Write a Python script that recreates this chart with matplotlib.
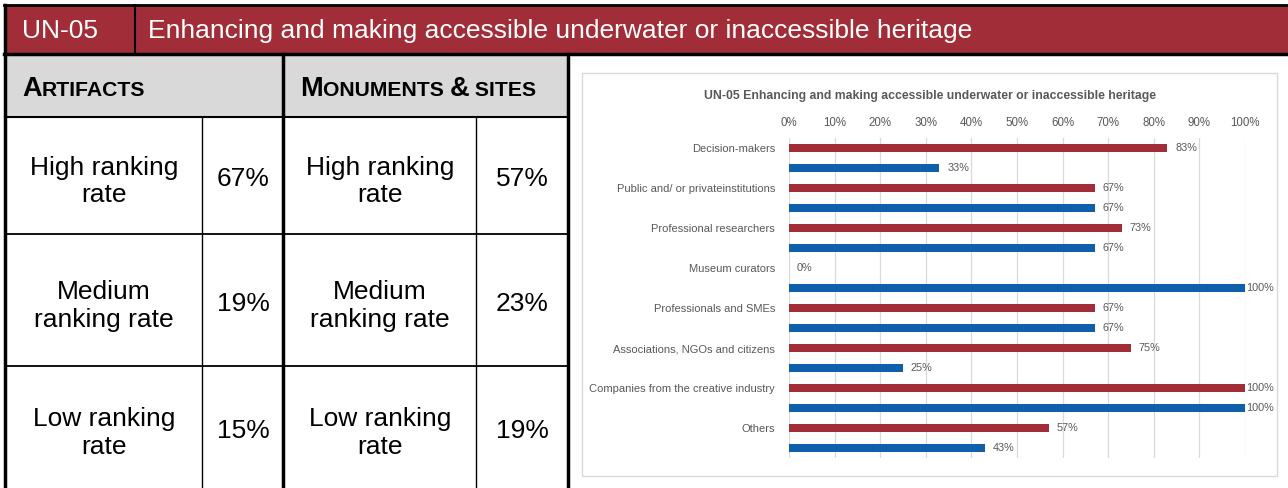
import matplotlib
matplotlib.use('Agg')
import matplotlib.pyplot as plt
from matplotlib.patches import Rectangle

## Data ##
code = 'UN-05'
title = 'Enhancing and making accessible underwater or inaccessible heritage'
row_labels = ['High ranking\nrate', 'Medium\nranking rate', 'Low ranking\nrate']
artifacts_pct = [67, 19, 15]
monuments_pct = [57, 23, 19]

categories = ['Decision-makers', 'Public and/ or privateinstitutions', 'Professional researchers',
              'Museum curators', 'Professionals and SMEs', 'Associations, NGOs and citizens',
              'Companies from the creative industry', 'Others']
red_values = [83, 67, 73, 0, 67, 75, 100, 57]
blue_values = [33, 67, 67, 100, 67, 25, 100, 43]
x_ticks = list(range(0, 101, 10))

## Colours and fonts ##
RED = '#A12D38'
BLUE = '#0F5FAB'
GREY_TXT = '#595959'
GRID = '#D9D9D9'
TABLE_FONT = ['Liberation Sans', 'DejaVu Sans']
NARROW = ['Liberation Sans Narrow', 'Liberation Sans', 'DejaVu Sans']

W, H = 1288, 488
fig = plt.figure(figsize=(W / 100, H / 100), dpi=100)

# background axes in pixel coordinates for the table part
bg = fig.add_axes([0, 0, 1, 1])
bg.set_xlim(0, W)
bg.set_ylim(H, 0)
bg.axis('off')

# red header band
bg.add_patch(Rectangle((4, 5), W, 48, facecolor=RED, edgecolor='none'))
bg.plot([4, W], [5, 5], color='black', lw=2)
bg.plot([4, W], [53.5, 53.5], color='black', lw=2.5)
bg.plot([135, 135], [5, 53], color='black', lw=1.5)
bg.text(22, 31, code, color='white', fontsize=19, family=TABLE_FONT, va='center', ha='left')
bg.text(148, 31, title, color='white', fontsize=19, family=TABLE_FONT, va='center', ha='left')

# grey column headers
bg.add_patch(Rectangle((5, 55), 278, 62, facecolor='#D9D9D9', edgecolor='none'))
bg.add_patch(Rectangle((283, 55), 285, 62, facecolor='#D9D9D9', edgecolor='none'))


def small_caps(x, y, parts):
    # parts: list of (text, big?) drawn one after the other on the same baseline
    prev = None
    for txt, big in parts:
        size = 19.5 if big else 15.2
        kw = dict(fontsize=size, fontweight='bold', family=TABLE_FONT, va='baseline', ha='left', color='black')
        if prev is None:
            prev = bg.text(x, y, txt, **kw)
        else:
            prev = bg.annotate(txt, xy=(1, y), xycoords=(prev, 'data'), **kw)


small_caps(22, 96, [('A', True), ('RTIFACTS', False)])
small_caps(300, 96, [('M', True), ('ONUMENTS ', False), ('&', True), (' SITES', False)])

# table grid lines
row_edges = [117, 234, 366, 488]
for y in row_edges[1:-1]:
    bg.plot([5, 568], [y, y], color='black', lw=1.3)
bg.plot([5, 568], [117, 117], color='black', lw=1.5)
bg.plot([5, 5], [5, H], color='black', lw=2.5)
bg.plot([283, 283], [54, H], color='black', lw=2.5)
bg.plot([568, 568], [54, H], color='black', lw=2.5)
bg.plot([202, 202], [117, H], color='black', lw=1)
bg.plot([476, 476], [117, H], color='black', lw=1)

for i, lab in enumerate(row_labels):
    yc = (row_edges[i] + row_edges[i + 1]) / 2
    bg.text(104, yc + 6, lab, fontsize=19, family=TABLE_FONT, ha='center', va='center', linespacing=1.18)
    bg.text(243, yc + 4, f'{artifacts_pct[i]}%', fontsize=19, family=TABLE_FONT, ha='center', va='center')
    bg.text(380, yc + 6, lab, fontsize=19, family=TABLE_FONT, ha='center', va='center', linespacing=1.18)
    bg.text(522, yc + 4, f'{monuments_pct[i]}%', fontsize=19, family=TABLE_FONT, ha='center', va='center')

# chart frame
bg.add_patch(Rectangle((582, 73), 695, 403, facecolor='white', edgecolor=GRID, lw=1))
bg.text(930, 95.5, f'{code} {title}', fontsize=8.8, fontweight='bold', family=NARROW,
        color=GREY_TXT, ha='center', va='center')

## Bar chart ##
ax = fig.add_axes([789 / W, 1 - 458 / H, (1245 - 789) / W, (458 - 138) / H])
ax.set_facecolor('none')

n = len(categories)
red_pos = [2 * i for i in range(n)]
blue_pos = [2 * i + 1 for i in range(n)]
ax.barh(red_pos, red_values, height=0.36, color=RED, zorder=3)
ax.barh(blue_pos, blue_values, height=0.36, color=BLUE, zorder=3)

for p, v in zip(red_pos + blue_pos, red_values + blue_values):
    off = 0.2 if v >= 100 else 1.7
    ax.text(v + off, p, f'{v}%', fontsize=7.8, family=NARROW, color=GREY_TXT, va='center', ha='left')

ax.set_xlim(0, 100)
ax.set_ylim(2 * n - 0.5, -0.5)
ax.set_xticks(x_ticks)
ax.set_xticklabels([f'{t}%' for t in x_ticks], fontsize=8.3, family=NARROW, color=GREY_TXT)
ax.xaxis.tick_top()
ax.tick_params(axis='x', length=0, pad=6.5)
ax.set_yticks(red_pos)
ax.set_yticklabels(categories, fontsize=8, family=NARROW, color=GREY_TXT)
ax.tick_params(axis='y', length=0, pad=10)
ax.grid(axis='x', color=GRID, lw=0.9, zorder=0)
for s in ax.spines.values():
    s.set_visible(False)

fig.savefig('out.png', dpi=100)
